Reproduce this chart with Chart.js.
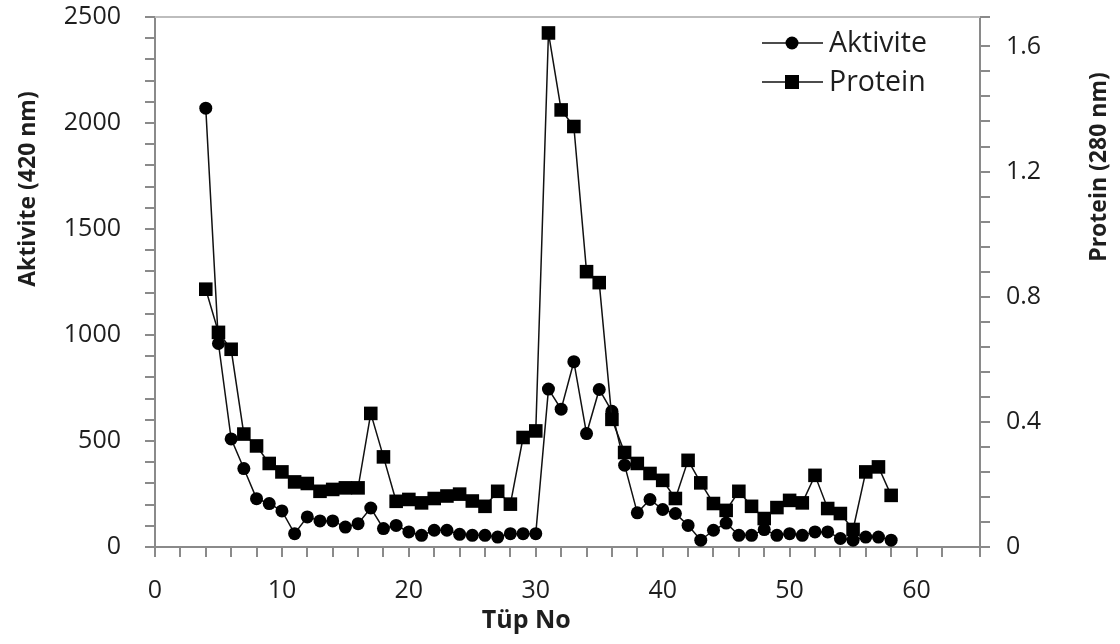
<!DOCTYPE html>
<html>
<head>
<meta charset="utf-8">
<script src="https://cdn.jsdelivr.net/npm/chart.js@4/dist/chart.umd.min.js"></script>
<style>
  html, body { margin: 0; padding: 0; background: #ffffff; }
  #wrap { width: 1120px; height: 644px; position: relative; }
  canvas { display: block; }
</style>
</head>
<body>
<div id="wrap"><canvas id="c" width="1120" height="644"></canvas></div>
<script>
// ---- Data ----
const tubeNo = [4,5,6,7,8,9,10,11,12,13,14,15,16,17,18,19,20,21,22,23,24,25,26,27,28,29,30,31,32,33,34,35,36,37,38,39,40,41,42,43,44,45,46,47,48,49,50,51,52,53,54,55,56,57,58];
const aktivite = [2070,960,510,370,228,205,170,63,142,123,123,94,110,184,87,102,71,55,79,79,60,55,55,47,63,63,63,745,650,874,535,743,640,386,161,224,177,158,102,32,79,113,55,55,82,55,63,55,71,71,40,32,47,47,32];
const protein = [0.824,0.686,0.632,0.361,0.323,0.267,0.240,0.208,0.203,0.178,0.184,0.189,0.189,0.427,0.288,0.146,0.152,0.141,0.155,0.163,0.169,0.147,0.130,0.178,0.137,0.350,0.371,1.643,1.397,1.344,0.880,0.845,0.408,0.302,0.267,0.235,0.213,0.155,0.277,0.205,0.139,0.117,0.178,0.130,0.091,0.126,0.149,0.141,0.229,0.123,0.107,0.056,0.240,0.256,0.165];
const seriesNames = ["Aktivite", "Protein"];
const xTitle = "Tüp No";
const yLeftTitle = "Aktivite (420 nm)";
const yRightTitle = "Protein (280 nm)";
const xLabelTicks = [0,10,20,30,40,50,60];
const yLeftLabelTicks = [0,500,1000,1500,2000,2500];
const yRightLabelTicks = ["0","0.4","0.8","1.2","1.6"];

const FONT = "'Open Sans', 'Noto Sans', sans-serif";
const AXIS_COLOR = '#8a8a8a';
const TEXT_COLOR = '#1e1e1e';

const aktPts = tubeNo.map((x, i) => ({ x: x, y: aktivite[i] }));
const proPts = tubeNo.map((x, i) => ({ x: x, y: protein[i] }));

const decorPlugin = {
  id: 'decor',
  afterDraw(chart) {
    const ctx = chart.ctx;
    const a = chart.chartArea;
    ctx.save();
    // top border of plot area
    ctx.strokeStyle = '#bdbdbd';
    ctx.lineWidth = 2;
    ctx.beginPath();
    ctx.moveTo(a.left, a.top);
    ctx.lineTo(a.right, a.top);
    ctx.stroke();

    // axis titles
    ctx.fillStyle = TEXT_COLOR;
    ctx.textAlign = 'center';
    ctx.textBaseline = 'alphabetic';
    ctx.font = "bold 25px " + FONT;
    ctx.fillText(xTitle, a.left + 0.45 * (a.right - a.left), 628);

    ctx.font = "bold 23px " + FONT;
    ctx.save();
    ctx.translate(35, 189);
    ctx.rotate(-Math.PI / 2);
    ctx.fillText(yLeftTitle, 0, 0);
    ctx.restore();

    ctx.save();
    ctx.translate(1106, 167);
    ctx.rotate(-Math.PI / 2);
    ctx.fillText(yRightTitle, 0, 0);
    ctx.restore();

    // legend (inside plot area, top right)
    const rows = [
      { name: seriesNames[0], y: 43, style: 'circle' },
      { name: seriesNames[1], y: 82, style: 'rect' }
    ];
    ctx.font = "28.5px " + FONT;
    ctx.textAlign = 'left';
    ctx.textBaseline = 'middle';
    rows.forEach(r => {
      ctx.strokeStyle = '#111';
      ctx.lineWidth = 1.5;
      ctx.beginPath();
      ctx.moveTo(762, r.y);
      ctx.lineTo(823, r.y);
      ctx.stroke();
      ctx.fillStyle = '#000';
      if (r.style === 'circle') {
        ctx.beginPath();
        ctx.arc(792, r.y, 6.5, 0, Math.PI * 2);
        ctx.fill();
      } else {
        ctx.fillRect(785, r.y - 7, 14, 14);
      }
      ctx.fillStyle = TEXT_COLOR;
      ctx.fillText(r.name, 829, r.y + 1);
    });
    ctx.restore();
  }
};

const tickFont = { family: FONT, size: 25 };

function fitVertical(width) {
  return function (s) {
    s.width = width;
    s.paddingTop = 0;
    s.paddingBottom = 0;
  };
}

new Chart(document.getElementById('c'), {
  type: 'line',
  data: {
    datasets: [
      {
        label: seriesNames[0],
        data: aktPts,
        yAxisID: 'y',
        borderColor: '#111',
        backgroundColor: '#000',
        borderWidth: 1.5,
        pointStyle: 'circle',
        pointRadius: 6.5,
        pointBorderWidth: 0,
        pointBackgroundColor: '#000',
        tension: 0,
        order: 1
      },
      {
        label: seriesNames[1],
        data: proPts,
        yAxisID: 'y1',
        borderColor: '#111',
        backgroundColor: '#000',
        borderWidth: 1.5,
        pointStyle: 'rect',
        pointRadius: 9.6,
        pointBorderWidth: 0,
        pointBackgroundColor: '#000',
        tension: 0,
        order: 0
      }
    ]
  },
  options: {
    responsive: false,
    animation: false,
    devicePixelRatio: 1,
    layout: { padding: { top: 17, left: 0, right: 0, bottom: 0 } },
    plugins: {
      legend: { display: false },
      tooltip: { enabled: false },
      title: { display: false }
    },
    scales: {
      x: {
        type: 'linear',
        min: 0,
        max: 65,
        afterFit(s) { s.height = 97; s.paddingLeft = 0; s.paddingRight = 0; },
        border: { display: true, color: AXIS_COLOR, width: 2 },
        grid: { drawOnChartArea: false, drawTicks: true, tickLength: 10, color: AXIS_COLOR, lineWidth: 2 },
        ticks: {
          stepSize: 2,
          autoSkip: false,
          maxRotation: 0,
          padding: 19,
          color: TEXT_COLOR,
          font: tickFont,
          callback(v) { return xLabelTicks.includes(v) ? String(v) : ''; }
        }
      },
      y: {
        type: 'linear',
        position: 'left',
        min: 0,
        max: 2500,
        afterFit: fitVertical(155),
        border: { display: true, color: AXIS_COLOR, width: 2 },
        grid: { drawOnChartArea: false, drawTicks: true, tickLength: 10, color: AXIS_COLOR, lineWidth: 2 },
        ticks: {
          stepSize: 100,
          autoSkip: false,
          padding: 24,
          color: TEXT_COLOR,
          font: tickFont,
          callback(v) { return yLeftLabelTicks.includes(v) ? String(v) : ''; }
        }
      },
      y1: {
        type: 'linear',
        position: 'right',
        min: 0,
        max: 1.694,
        afterFit: fitVertical(140),
        border: { display: true, color: AXIS_COLOR, width: 2 },
        grid: { drawOnChartArea: false, drawTicks: true, tickLength: 10, color: AXIS_COLOR, lineWidth: 2 },
        ticks: {
          stepSize: 0.08,
          autoSkip: false,
          padding: 16,
          color: TEXT_COLOR,
          font: tickFont,
          callback(v) {
            const k = Math.round(v * 100);
            if (k % 40 === 0 && k <= 160) {
              return yRightLabelTicks[k / 40];
            }
            return '';
          }
        }
      }
    }
  },
  plugins: [decorPlugin]
});
</script>
</body>
</html>
